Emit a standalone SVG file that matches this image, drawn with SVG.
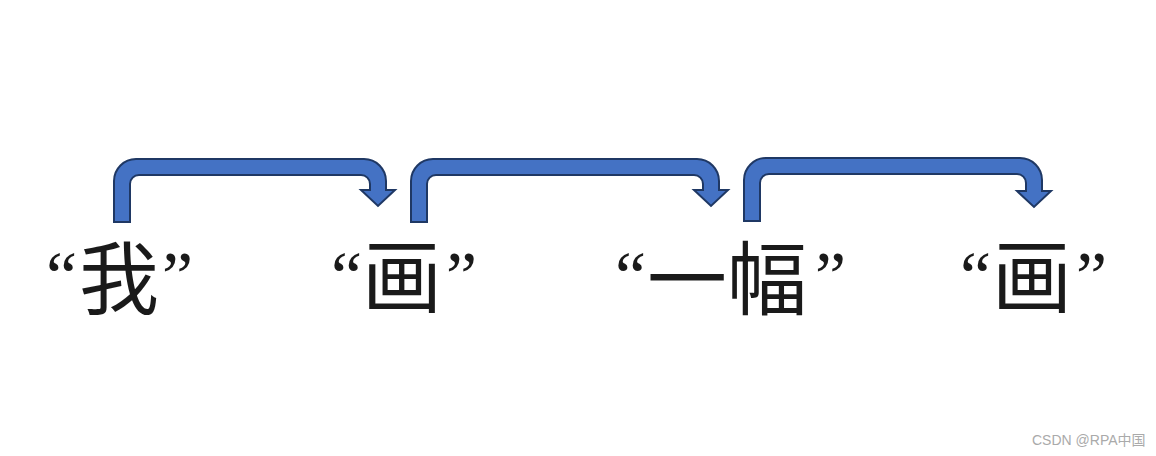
<svg xmlns="http://www.w3.org/2000/svg" width="1156" height="456" viewBox="0 0 1156 456">
<style>
.a{fill:#4472C4;stroke:#1F3864;stroke-width:2;stroke-linejoin:miter}
.t{font-family:"Noto Sans CJK SC","Noto Sans",sans-serif;font-size:80px;fill:#1a1a1a}
.q{font-family:"Liberation Serif","Noto Sans CJK SC",serif;font-size:70px;fill:#1a1a1a}
.w{font-family:"Liberation Sans","Noto Sans CJK SC",sans-serif;font-size:14px;fill:#aaaaaa}
</style>
<rect width="1156" height="456" fill="#fff"/>
<g id="connectors">
<path class="a" d="M114,222 L114,181 A22,22 0 0 1 136,159 L364,159 A22,22 0 0 1 386,181 L386,190 L395,190 L378,206 L361,190 L370,190 L370,184 A9,9 0 0 0 361,175 L139,175 A9,9 0 0 0 130,184 L130,222 Z"/>
<path class="a" d="M411,222 L411,181 A22,22 0 0 1 433,159 L697,159 A22,22 0 0 1 719,181 L719,190 L728,190 L711,206 L694,190 L703,190 L703,184 A9,9 0 0 0 694,175 L436,175 A9,9 0 0 0 427,184 L427,222 Z"/>
<path class="a" d="M744,221 L744,180 A22,22 0 0 1 766,158 L1020,158 A22,22 0 0 1 1042,180 L1042,191 L1051,191 L1034,207 L1017,191 L1026,191 L1026,183 A9,9 0 0 0 1017,174 L769,174 A9,9 0 0 0 760,183 L760,221 Z"/>
</g>
<g id="n1"><text class="q" x="46" y="300">“</text><text class="t" x="79" y="308">我</text><text class="q" x="162" y="300">”</text></g>
<g id="n2"><text class="q" x="331" y="300">“</text><text class="t" x="362" y="306">画</text><text class="q" x="446" y="300">”</text></g>
<g id="n3"><text class="q" x="615" y="300">“</text><text class="t" x="647" y="308">一幅</text><text class="q" x="815" y="300">”</text></g>
<g id="n4"><text class="q" x="960" y="300">“</text><text class="t" x="992" y="306">画</text><text class="q" x="1076" y="300">”</text></g>
<text class="w" x="1032" y="445">CSDN @RPA中国</text>
</svg>
